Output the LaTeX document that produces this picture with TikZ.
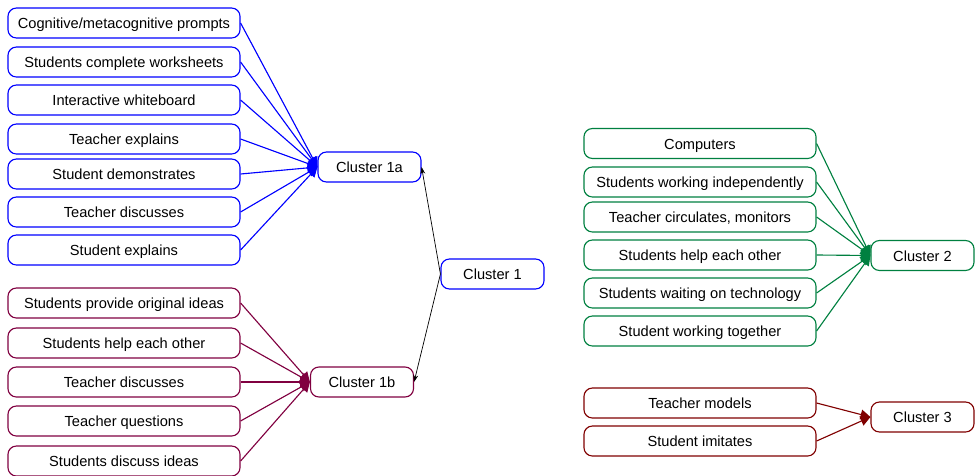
\documentclass[tikz,border=0pt]{standalone}
\usepackage{fontspec}
\setmainfont{Liberation Sans}
\usepackage{xcolor}
\usetikzlibrary{positioning, arrows.meta}

\definecolor{oneablue}{RGB}{0,0,255}
\definecolor{onebred}{RGB}{128,0,64}
\definecolor{twogreen}{RGB}{0,128,64}
\definecolor{threered}{RGB}{128,0,0}

\begin{document}
\begin{tikzpicture}[x=0.025cm, y=-0.025cm,
    item/.style={draw, rounded corners=6pt, line width=0.8pt, minimum width=5.8cm,
        minimum height=0.75cm, inner sep=0pt, text height=8.5pt, text depth=0.5pt,
        font=\fontsize{10.4}{12}\selectfont},
    cluster/.style={item, minimum width=2.575cm},
    feed/.style={line width=0.8pt, -{Triangle[length=7pt,width=7pt]}},
    link/.style={line width=0.5pt, -{Stealth[length=5pt,width=3.5pt]}}]
        \useasboundingbox (0,0) rectangle (976,475);

        % cluster nodes
        \node[cluster, draw=oneablue] (c1a) at (369.5,167) {Cluster 1a};
        \node[cluster, draw=onebred] (c1b) at (362,382) {Cluster 1b};
        \node[cluster, draw=oneablue] (c1) at (492.5,274) {Cluster 1};
        \node[cluster, draw=twogreen] (c2) at (922.5,255.5) {Cluster 2};
        \node[cluster, draw=threered] (c3) at (922.5,417) {Cluster 3};

        % cluster 1a items
        \foreach \y/\descr [count=\i] in {23/{Cognitive/metacognitive prompts},
            62/Students complete worksheets, 100/Interactive whiteboard,
            139/Teacher explains, 174/Student demonstrates,
            212/Teacher discusses, 250/Student explains}
        \node[item, draw=oneablue] (a\i) at (124,\y) {\descr};

        % cluster 1b items
        \foreach \y/\descr [count=\i] in {303/Students provide original ideas,
            343/Students help each other, 382/Teacher discusses,
            421/Teacher questions, 461/Students discuss ideas}
        \node[item, draw=onebred] (b\i) at (124,\y) {\descr};

        % cluster 2 items
        \foreach \y/\descr [count=\i] in {143.5/Computers,
            182/Students working independently, 217/{Teacher circulates, monitors},
            255/Students help each other, 293/Students waiting on technology,
            331/Student working together}
        \node[item, draw=twogreen] (g\i) at (700,\y) {\descr};

        % cluster 3 items
        \node[item, draw=threered] (r1) at (700,403) {Teacher models};
        \node[item, draw=threered] (r2) at (700,441) {Student imitates};

        % connectors
        \foreach \i in {1,...,7}
        \draw[feed, oneablue] (a\i.east) -- (c1a.west);
        \foreach \i in {1,...,5}
        \draw[feed, onebred] (b\i.east) -- (c1b.west);
        \foreach \i in {1,...,6}
        \draw[feed, twogreen] (g\i.east) -- (c2.west);
        \foreach \i in {1,2}
        \draw[feed, threered] (r\i.east) -- (c3.west);

        \draw[link] (c1.west) -- (c1a.east);
        \draw[link] (c1.west) -- (c1b.east);
    \end{tikzpicture}
\end{document}
